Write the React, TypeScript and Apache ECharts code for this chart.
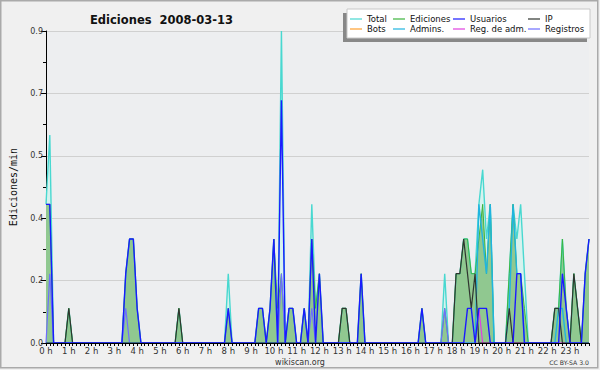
import React, { useEffect, useRef } from 'react';
import * as echarts from 'echarts';

const hourLabels = ['0 h','1 h','2 h','3 h','4 h','5 h','6 h','7 h','8 h','9 h','10 h','11 h','12 h','13 h','14 h','15 h','16 h','17 h','18 h','19 h','20 h','21 h','22 h','23 h'];
const minuteSteps = ['00','10','20','30','40','50'];

// 10-minute bins, 144 per day
const total = [
  .4,.6,0,0,0,0,.1,0,0,0,0,0,
  0,0,0,0,0,0,0,0,0,.2,.3,.3,
  .1,0,0,0,0,0,0,0,0,0,0,.1,
  0,0,0,0,0,0,0,0,0,0,0,0,
  .2,0,0,0,0,0,0,0,.1,.1,0,.1,
  .3,0,.9,0,.1,.1,0,0,.1,0,.4,.1,
  .2,0,0,0,0,0,.1,.1,0,0,0,.2,
  0,0,0,0,0,0,0,0,0,0,0,0,
  0,0,0,.1,0,0,0,0,0,.2,0,0,
  .2,.2,.3,.3,.2,.2,.4,.5,.3,.4,0,0,
  0,0,.2,.4,.3,.4,.2,0,0,0,0,0,
  0,0,.1,.1,.3,.1,0,.2,.1,0,.2,.3,
];
const ediciones = [
  .4,.4,0,0,0,0,.1,0,0,0,0,0,
  0,0,0,0,0,0,0,0,0,.2,.3,.3,
  .1,0,0,0,0,0,0,0,0,0,0,.1,
  0,0,0,0,0,0,0,0,0,0,0,0,
  .1,0,0,0,0,0,0,0,.1,.1,0,.1,
  .3,.1,.2,0,.1,.1,0,0,.1,0,.3,.1,
  .2,0,0,0,0,0,.1,.1,0,0,0,.2,
  0,0,0,0,0,0,0,0,0,0,0,0,
  0,0,0,.1,0,0,0,0,0,.1,0,0,
  .2,.2,.3,.3,.2,.2,.3,.4,.2,.4,0,0,
  0,0,.2,.4,.2,.2,.1,0,0,0,0,0,
  0,0,.1,.1,.3,.1,0,.2,.1,0,.2,.3,
];
const usuarios = [
  .4,.4,0,0,0,0,0,0,0,0,0,0,
  0,0,0,0,0,0,0,0,0,.2,.3,.3,
  .1,0,0,0,0,0,0,0,0,0,0,0,
  0,0,0,0,0,0,0,0,0,0,0,0,
  .1,0,0,0,0,0,0,0,.1,.1,0,.1,
  .3,0,.7,0,.1,.1,0,0,.1,0,.3,0,
  .2,0,0,0,0,0,0,0,0,0,0,.2,
  0,0,0,0,0,0,0,0,0,0,0,0,
  0,0,0,.1,0,0,0,0,0,0,0,0,
  0,0,0,.1,.1,0,.1,.1,.1,0,0,0,
  0,0,0,0,.2,.2,0,0,0,0,0,0,
  0,0,0,0,.2,.1,0,0,0,0,.2,.3,
];
const ip = [
  0,0,0,0,0,0,.1,0,0,0,0,0,
  0,0,0,0,0,0,0,0,0,0,0,0,
  0,0,0,0,0,0,0,0,0,0,0,.1,
  0,0,0,0,0,0,0,0,0,0,0,0,
  0,0,0,0,0,0,0,0,0,0,0,0,
  0,0,0,0,0,0,0,0,0,0,0,0,
  0,0,0,0,0,0,.1,.1,0,0,0,0,
  0,0,0,0,0,0,0,0,0,0,0,0,
  0,0,0,0,0,0,0,0,0,0,0,0,
  .2,.2,.3,.2,.1,.2,0,0,0,0,0,0,
  0,0,.1,0,0,0,0,0,0,0,0,0,
  0,0,.1,.1,0,0,0,.2,.1,0,0,0,
];
const bots = [
  0,0,0,0,0,0,0,0,0,0,0,0,
  0,0,0,0,0,0,0,0,0,0,0,0,
  0,0,0,0,0,0,0,0,0,0,0,0,
  0,0,0,0,0,0,0,0,0,0,0,0,
  0,0,0,0,0,0,0,0,0,0,0,0,
  0,0,0,0,0,0,0,0,0,0,0,0,
  0,0,0,0,0,0,0,0,0,0,0,0,
  0,0,0,0,0,0,0,0,0,0,0,0,
  0,0,0,0,0,0,0,0,0,0,0,0,
  0,0,0,0,0,0,0,0,0,0,0,0,
  0,0,0,0,0,0,0,0,0,0,0,0,
  0,0,0,0,0,0,0,0,0,0,0,0,
];
const admins = [
  0,0,0,0,0,0,0,0,0,0,0,0,
  0,0,0,0,0,0,0,0,0,0,0,0,
  0,0,0,0,0,0,0,0,0,0,0,0,
  0,0,0,0,0,0,0,0,0,0,0,0,
  0,0,0,0,0,0,0,0,0,0,0,0,
  0,0,0,0,0,0,0,0,0,0,0,0,
  0,0,0,0,0,0,0,0,0,0,0,0,
  0,0,0,0,0,0,0,0,0,0,0,0,
  0,0,0,0,0,0,0,0,0,0,0,0,
  0,0,0,0,0,0,.4,.3,.2,.4,0,0,
  0,0,.1,.4,.2,.2,0,0,0,0,0,0,
  0,0,0,.1,.1,0,0,0,0,0,0,0,
];
const regAdm = [
  0,0,0,0,0,0,0,0,0,0,0,0,
  0,0,0,0,0,0,0,0,0,0,0,0,
  0,0,0,0,0,0,0,0,0,0,0,0,
  0,0,0,0,0,0,0,0,0,0,0,0,
  0,0,0,0,0,0,0,0,0,0,0,0,
  0,0,0,0,0,0,0,0,0,0,0,0,
  0,0,0,0,0,0,0,0,0,0,0,0,
  0,0,0,0,0,0,0,0,0,0,0,0,
  0,0,0,0,0,0,0,0,0,0,0,0,
  0,0,0,0,0,0,.1,0,0,0,0,0,
  0,0,0,0,0,0,0,0,0,0,0,0,
  0,0,0,0,0,0,0,0,0,0,0,0,
];
const registros = [
  0,.2,0,0,0,0,0,0,0,0,0,0,
  0,0,0,0,0,0,0,0,0,.1,0,0,
  0,0,0,0,0,0,0,0,0,0,0,0,
  0,0,0,0,0,0,0,0,0,0,0,0,
  0,0,0,0,0,0,0,0,0,0,0,0,
  0,0,.2,0,0,0,0,0,0,0,.1,0,
  0,0,0,0,0,0,0,0,0,0,0,0,
  0,0,0,0,0,0,0,0,0,0,0,0,
  0,0,0,0,0,0,0,0,0,.1,0,0,
  0,0,0,0,0,0,0,0,0,0,0,0,
  0,0,0,0,0,0,0,0,0,0,0,0,
  0,0,0,0,0,0,0,0,0,0,0,0,
];

const FONT = 'DejaVu Sans';

export default function App() {
  const ref = useRef<HTMLDivElement>(null);
  useEffect(() => {
    document.body.style.margin = '0';
    if (!ref.current) return;
    const chart = echarts.init(ref.current, undefined, { renderer: 'svg' });
    const times: string[] = [];
    hourLabels.forEach((_, h) => minuteSteps.forEach((m) => times.push(`${h}:${m}`)));

    const lineSeries = (name: string, data: number[], color: string, width = 1.2, extra: any = {}) => ({
      name, type: 'line', data, color, symbol: 'none', showSymbol: false,
      lineStyle: { color, width }, emphasis: { disabled: true }, ...extra,
    });

    const legendBase = {
      orient: 'vertical', top: 14, itemWidth: 12, itemHeight: 1.2, itemGap: 0, padding: 0,
      icon: 'rect', selectedMode: false,
      textStyle: { fontFamily: FONT, fontSize: 8.5, color: '#111', lineHeight: 10, padding: [0, 0, 0, 0] },
    };

    chart.setOption({
      animation: false,
      backgroundColor: '#f0f0f0',
      title: {
        text: 'Ediciones  2008-03-13', left: 85, top: 9,
        textStyle: { fontFamily: FONT, fontSize: 11.5, fontWeight: 'bold', color: '#111' },
      },
      legend: [
        { ...legendBase, left: 350, data: ['Total', 'Bots'] },
        { ...legendBase, left: 393, data: ['Ediciones', 'Admins.'] },
        { ...legendBase, left: 453, data: ['Usuarios', 'Reg. de adm.'] },
        { ...legendBase, left: 528, data: ['IP', 'Registros'] },
      ],
      grid: { left: 46, right: 11, top: 31, bottom: 27, show: true, backgroundColor: '#edeef0', borderWidth: 0, outerBoundsMode: 'none' },
      xAxis: {
        type: 'category', data: times, boundaryGap: false, z: 10,
        axisLine: { lineStyle: { color: '#000', width: 1 } },
        axisTick: { interval: 0, length: 3, lineStyle: { color: '#000' } },
        axisLabel: {
          interval: 5, fontFamily: FONT, fontSize: 8.5, color: '#333', margin: 3,
          formatter: (_v: string, i: number) => hourLabels[Math.floor(i / 6)],
        },
        splitLine: { show: false },
      },
      yAxis: {
        type: 'value', min: 0, max: 0.9, interval: 0.18,
        name: 'Ediciones/min', nameLocation: 'middle', nameGap: 28,
        nameTextStyle: { fontFamily: 'DejaVu Sans Mono', fontSize: 10, color: '#111' },
        axisLine: { show: true, lineStyle: { color: '#000', width: 1 } },
        axisTick: { show: true, length: 5, lineStyle: { color: '#000' } },
        minorTick: { show: true, splitNumber: 2, length: 3, lineStyle: { color: '#000' } },
        axisLabel: { fontFamily: FONT, fontSize: 8, color: '#333', margin: 3, formatter: (v: number) => v.toFixed(1) },
        splitLine: { lineStyle: { color: '#d0d0d0' } },
      },
      series: [
        lineSeries('Total', total, '#48d8d0', 1.4, { areaStyle: { color: '#d6f2ee', opacity: 1 } }),
        lineSeries('Ediciones', ediciones, '#3cb43c', 1, { areaStyle: { color: '#90c890', opacity: 1 } }),
        lineSeries('Bots', bots, '#ffa030'),
        lineSeries('Registros', registros, '#6e6eff'),
        lineSeries('Reg. de adm.', regAdm, '#e040e0'),
        lineSeries('Admins.', admins, '#20b4e0', 1.4),
        lineSeries('IP', ip, '#303530'),
        lineSeries('Usuarios', usuarios, '#1a1aff', 1.4),
      ],
      graphic: [
        { type: 'rect', z: 3, shape: { x: 343, y: 13, width: 244, height: 29 }, style: { fill: '#888' } },
        { type: 'rect', z: 3, shape: { x: 347, y: 9, width: 243, height: 29 }, style: { fill: '#fff', stroke: '#c8c8c8', lineWidth: 1 } },
        { type: 'rect', z: 3, shape: { x: 0.75, y: 0.75, width: 597, height: 367 }, style: { fill: 'none', stroke: '#aaa', lineWidth: 1.5 } },
        { type: 'text', z: 3, x: 300, y: 362, style: { text: 'wikiscan.org', fontFamily: FONT, fontSize: 8, fill: '#333', align: 'center', verticalAlign: 'middle' } },
        { type: 'text', z: 3, x: 589, y: 362, style: { text: 'CC BY-SA 3.0', fontFamily: FONT, fontSize: 6.2, fill: '#333', align: 'right', verticalAlign: 'middle' } },
      ],
    });
    return () => chart.dispose();
  }, []);
  return <div ref={ref} style={{ width: 600, height: 370 }} />;
}
